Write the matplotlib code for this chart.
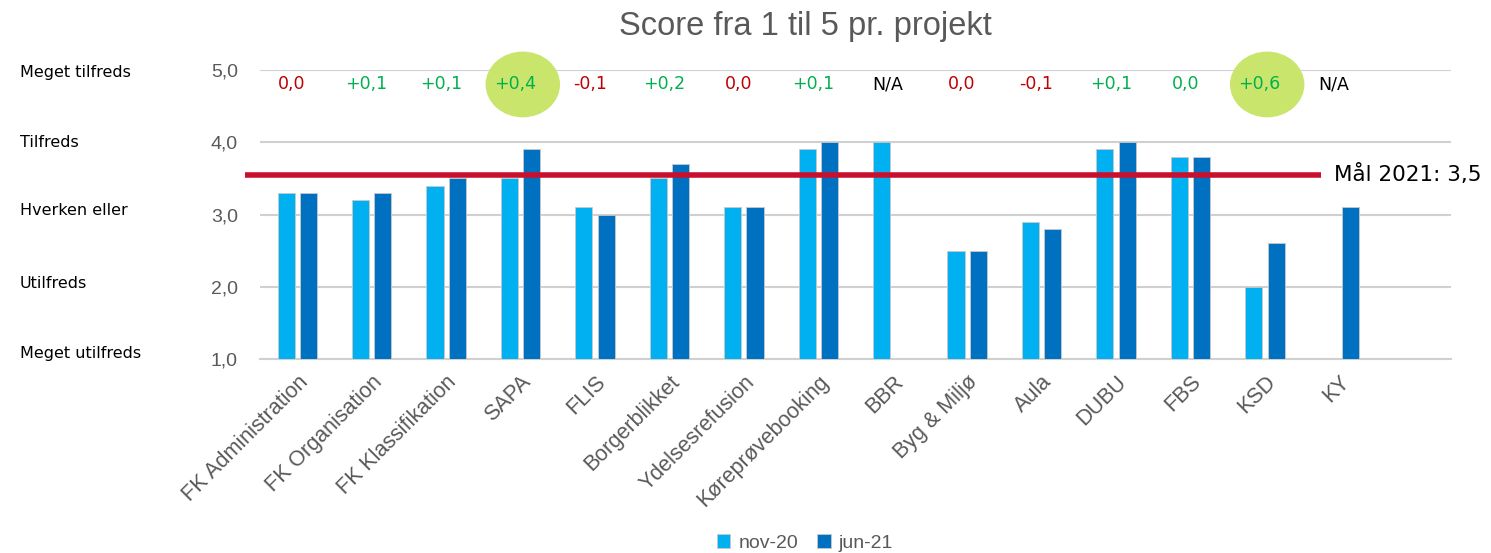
import matplotlib
matplotlib.use("Agg")
import matplotlib.pyplot as plt
import numpy as np
from matplotlib.patches import Ellipse

categories = ["FK Administration", "FK Organisation", "FK Klassifikation", "SAPA", "FLIS",
              "Borgerblikket", "Ydelsesrefusion", "Køreprøvebooking", "BBR", "Byg & Miljø",
              "Aula", "DUBU", "FBS", "KSD", "KY"]
nov20 = [3.3, 3.2, 3.4, 3.5, 3.1, 3.5, 3.1, 3.9, 4.0, 2.5, 2.9, 3.9, 3.8, 2.0, np.nan]
jun21 = [3.3, 3.3, 3.5, 3.9, 3.0, 3.7, 3.1, 4.0, np.nan, 2.5, 2.8, 4.0, 3.8, 2.6, 3.1]
diff_labels = ["0,0", "+0,1", "+0,1", "+0,4", "-0,1", "+0,2", "0,0", "+0,1", "N/A",
               "0,0", "-0,1", "+0,1", "0,0", "+0,6", "N/A"]
diff_colors = ["#C00000", "#00B050", "#00B050", "#00B050", "#C00000", "#00B050", "#C00000",
               "#00B050", "#000000", "#C00000", "#C00000", "#00B050", "#00B050", "#00B050",
               "#000000"]
highlighted = ["+0,4", "+0,6"]
goal_value = 3.55
goal_label = "Mål 2021: 3,5"
yticks = [1, 2, 3, 4, 5]
ytick_labels = ["1,0", "2,0", "3,0", "4,0", "5,0"]
scale_labels = ["Meget utilfreds", "Utilfreds", "Hverken eller", "Tilfreds", "Meget tilfreds"]
series_names = ["nov-20", "jun-21"]
title = "Score fra 1 til 5 pr. projekt"

c_light = "#00B0F0"
c_dark = "#0070C0"
arial = "Liberation Sans"

fig = plt.figure(figsize=(14.91, 5.53), dpi=100)
ax = fig.add_axes([0.1744, 0.3508, 0.7988, 0.5226])

x = np.arange(len(categories))
w = 0.23
off = 0.15
ax.bar(x - off, nov20, w, bottom=0, color=c_light, edgecolor="#C8C8C8", linewidth=0.6,
       label=series_names[0], zorder=3)
ax.bar(x + off, jun21, w, bottom=0, color=c_dark, edgecolor="#C8C8C8", linewidth=0.6,
       label=series_names[1], zorder=3)

ax.set_xlim(-0.5, len(categories) + 0.5)
ax.set_ylim(1, 5)
ax.set_yticks(yticks)
ax.set_yticklabels(ytick_labels, fontsize=14, color="#595959", family=arial)
ax.tick_params(axis="y", length=0, pad=16)
ax.tick_params(axis="x", length=0, pad=9)
ax.set_xticks(x)
ax.set_xticklabels(categories, rotation=45, ha="right", va="top", rotation_mode="anchor",
                   fontsize=15.5, color="#595959", family=arial)
for s in ["top", "right", "left"]:
    ax.spines[s].set_visible(False)
ax.spines["bottom"].set_color("#D0D0D0")
ax.spines["bottom"].set_linewidth(1.5)
ax.yaxis.grid(True, color="#D0D0D0", linewidth=1.5, zorder=0)
ax.set_axisbelow(True)

# goal line
ax.plot([-0.7, 13.75], [goal_value, goal_value], color="#C8102E", linewidth=4,
        clip_on=False, zorder=4, solid_capstyle="butt")
ax.text(13.93, goal_value, goal_label, fontsize=15.5, color="#000000", va="center",
        ha="left", family="DejaVu Sans Condensed")

# difference labels
for i, (lab, col) in enumerate(zip(diff_labels, diff_colors)):
    if lab in highlighted:
        e = Ellipse((i + 0.03, 4.8), 1.0, 0.91, facecolor="#C9E56C", edgecolor="none",
                    clip_on=False, zorder=2)
        ax.add_patch(e)
    ax.text(i - 0.07, 4.8, lab, ha="center", va="center",
            fontsize=12.5, color=col, family="DejaVu Sans Condensed", zorder=5)

# satisfaction scale labels
label_shift = [0.08, 0.05, 0.05, -0.01, -0.04]
for yv, sh, lab in zip(yticks, label_shift, scale_labels):
    fig.text(20 / 1491, ax.transData.transform((0, yv + sh))[1] / 553, lab,
             fontsize=11.5, color="#000000", va="center", ha="left")

fig.text(805 / 1491, 1 - 27 / 553, title, fontsize=23.5, color="#595959", ha="center",
         va="center", family=arial)

leg = fig.legend(loc="center", bbox_to_anchor=(805 / 1491, 1 - 543 / 553), ncol=2,
                 frameon=False, prop={"family": arial, "size": 14}, handlelength=0.7,
                 handleheight=0.7, handletextpad=0.4, columnspacing=1.0)
for t in leg.get_texts():
    t.set_color("#595959")

fig.savefig("out.png", dpi=100)
